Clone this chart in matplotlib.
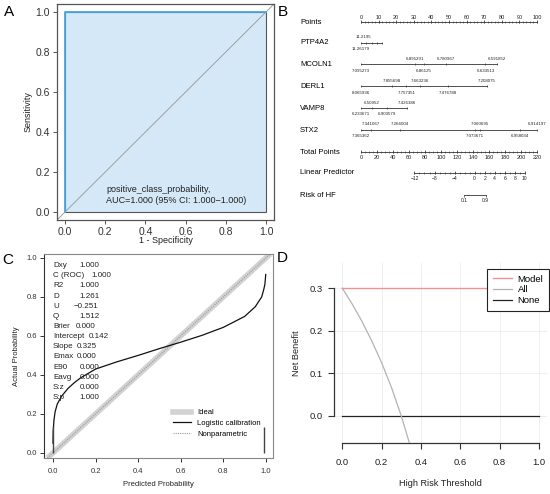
import numpy as np
import matplotlib
matplotlib.use("Agg")
import matplotlib.pyplot as plt
from matplotlib.lines import Line2D

plt.rcParams['font.family'] = ['Liberation Sans', 'DejaVu Sans']

W, H = 550, 494

# ---------------- data ----------------
# A: ROC
roc_fpr = [0.0, 0.0, 1.0, 1.0]
roc_tpr = [0.0, 1.0, 1.0, 0.0]
unit_ticks = [0.0, 0.2, 0.4, 0.6, 0.8, 1.0]
roc_text = "positive_class_probability,\nAUC=1.000 (95% CI: 1.000\u22121.000)"

# B: nomogram (positions in points / total points)
points_ticks = list(range(0, 101, 10))
total_ticks = list(range(0, 221, 20))
lp_ticks = [-12, -8, -4, 0, 2, 4, 6, 8, 10]
lp_pos = [66.8, 91.9, 117.0, 142.0, 154.7, 167.1, 179.7, 192.2, 204.7]
risk_labels = ["0.1", "0.9"]
risk_pos = [128.6, 156.0]

var_names = ["PTP4A2", "MCOLN1", "DERL1", "VAMP8", "STX2"]
ptp4a2_vals = ["11.26179", "11.2195"]
ptp4a2_pts = [0.0, 1.5]
ptp4a2_side = [-1, 1]
ptp4a2_ticks = [0.0, 3.0, 6.0, 9.0, 12.1]
mcoln1_vals = ["7.095273", "6.895291", "6.86125", "6.780967", "6.633513", "6.591852"]
mcoln1_pts = [0.0, 30.6, 35.8, 48.1, 70.7, 77.0]
mcoln1_side = [-1, 1, -1, 1, -1, 1]
derl1_vals = ["8.065936", "7.855698", "7.757351", "7.663236", "7.476788", "7.208075"]
derl1_pts = [0.0, 17.5, 25.8, 33.6, 49.2, 71.6]
derl1_side = [-1, 1, -1, 1, -1, 1]
vamp8_vals = ["6.233671", "6.50952", "6.903579", "7.426386"]
vamp8_pts = [0.0, 6.1, 14.8, 26.3]
vamp8_side = [-1, 1, -1, 1]
stx2_vals = ["7.365362", "7.341067", "7.266004", "7.073671", "7.060695", "6.958034", "6.914197"]
stx2_pts = [0.0, 5.4, 22.0, 64.6, 67.5, 90.3, 100.0]
stx2_side = [-1, 1, 1, -1, 1, -1, 1]

# C: calibration
cal_pred = [0.0001, 0.001, 0.005, 0.01, 0.02, 0.04, 0.07, 0.1, 0.13, 0.2, 0.3,
            0.4, 0.5, 0.6, 0.7, 0.8, 0.9, 0.95, 0.98, 0.99, 0.995, 0.999]
cal_act = [0.05, 0.11, 0.17, 0.21, 0.25, 0.29, 0.33, 0.36, 0.385, 0.43, 0.467,
           0.50, 0.535, 0.568, 0.603, 0.644, 0.70, 0.75, 0.80, 0.84, 0.865, 0.915]
spike_x = [0.001, 0.992]
spike_h = [0.14, 0.135]
stat_names = ["Dxy", "C (ROC)", "R2", "D", "U", "Q", "Brier", "Intercept",
              "Slope", "Emax", "E90", "Eavg", "S:z", "S:p"]
stat_vals = ["1.000", "1.000", "1.000", "1.261", "\u22120.251", "1.512", "0.000",
             "0.142", "0.325", "0.000", "0.000", "0.000", "0.000", "1.000"]

# D: decision curve
dca_thr = [0.0, 0.05, 0.1, 0.15, 0.2, 0.25, 0.3, 0.35]
all_nb = [0.30, 0.263, 0.222, 0.176, 0.125, 0.067, 0.0, -0.077]
model_thr = [0.0, 1.0]
model_nb = [0.3, 0.3]
none_thr = [0.0, 1.0]
none_nb = [0.0, 0.0]
dca_xticks = [0.0, 0.2, 0.4, 0.6, 0.8, 1.0]
dca_yticks = [0.0, 0.1, 0.2, 0.3]


def box(l, t, r, b):
    return [l / W, 1 - b / H, (r - l) / W, (b - t) / H]


fig = plt.figure(figsize=(W / 100, H / 100), dpi=100)

# ---------------- A ----------------
axA = fig.add_axes(box(57, 4, 274, 220))
axA.fill(roc_fpr, roc_tpr, facecolor='#d4e8f7', edgecolor='#555555', lw=0.8, zorder=1)
axA.plot(roc_fpr[:3], roc_tpr[:3], color='#45a8dc', lw=1.3, zorder=3)
axA.axline((0, 0), (1, 1), color='#a0a0a0', lw=0.7, zorder=2)
axA.set_xlim(-0.04, 1.04)
axA.set_ylim(-0.04, 1.04)
axA.set_xticks(unit_ticks)
axA.set_yticks(unit_ticks)
axA.set_xticklabels([f"{v:.1f}" for v in unit_ticks])
axA.set_yticklabels([f"{v:.1f}" for v in unit_ticks])
axA.tick_params(direction='out', length=3, width=0.7, color='#555555',
                labelsize=7.5, labelcolor='#333333', pad=2)
for s in axA.spines.values():
    s.set_color('#555555')
    s.set_linewidth(0.9)
axA.set_xlabel("1 - Specificity", fontsize=6.5, labelpad=-1, color='#222222')
axA.set_ylabel("Sensitivity", fontsize=6.5, labelpad=2, color='#222222')
axA.text(0.204, 0.085, roc_text, fontsize=6.5, va='center', ha='left',
         linespacing=1.25, color='#222222')

# ---------------- B ----------------
axB = fig.add_axes(box(290, 0, 550, 250))
px0, px100 = 361, 537
axB.set_xlim((290 - px0) / (px100 - px0) * 100, (550 - px0) / (px100 - px0) * 100)
axB.set_ylim(250, 0)
axB.axis('off')
lc = '#333333'
lab_x = (300 - px0) / (px100 - px0) * 100
row_fs = 5.5
num_fs = 3.2

# Points axis
yP = 22
axB.plot([0, 100], [yP, yP], color=lc, lw=0.6)
axB.vlines(np.arange(0, 101, 2), yP - 1.0, yP + 1.0, color=lc, lw=0.4)
axB.vlines(points_ticks, yP - 1.8, yP + 1.0, color=lc, lw=0.5)
for v in points_ticks:
    axB.text(v, yP - 4.5, str(v), fontsize=4, ha='center', va='center', color='#222222')
axB.text(lab_x, yP, "Points", fontsize=row_fs, ha='left', va='center')

var_rows = [43, 64.5, 86.5, 108.3, 130]
var_data = [(ptp4a2_vals, ptp4a2_pts, ptp4a2_side, ptp4a2_ticks),
            (mcoln1_vals, mcoln1_pts, mcoln1_side, mcoln1_pts),
            (derl1_vals, derl1_pts, derl1_side, derl1_pts),
            (vamp8_vals, vamp8_pts, vamp8_side, vamp8_pts),
            (stx2_vals, stx2_pts, stx2_side, stx2_pts)]
for name, yv, (vals, pts, side, tks) in zip(var_names, var_rows, var_data):
    axB.plot([0, max(tks)], [yv, yv], color=lc, lw=0.6)
    axB.vlines(tks, yv - 1.0, yv + 1.0, color=lc, lw=0.5)
    for t, p, s in zip(vals, pts, side):
        axB.text(p, yv - 5.8 if s > 0 else yv + 6.0, t, fontsize=num_fs,
                 ha='center', va='center', color='#222222')
    axB.text(lab_x, yv, name, fontsize=row_fs, ha='left', va='center')

# Total points
yT = 152.3
axB.plot([0, 100], [yT, yT], color=lc, lw=0.6)
axB.vlines(np.arange(0, 221, 5) / 220 * 100, yT - 1.0, yT + 1.0, color=lc, lw=0.4)
axB.vlines(np.array(total_ticks) / 220 * 100, yT - 1.8, yT + 1.0, color=lc, lw=0.5)
for v in total_ticks:
    axB.text(v / 220 * 100, yT + 5.5, str(v), fontsize=4, ha='center', va='center',
             color='#222222')
axB.text(lab_x, yT, "Total Points", fontsize=row_fs, ha='left', va='center')

# Linear predictor
yL = 172.8
lp_minor = np.interp(np.arange(-12, 11), lp_ticks, lp_pos) / 220 * 100
lp_x = np.array(lp_pos) / 220 * 100
axB.plot([lp_x[0], lp_x[-1]], [yL, yL], color=lc, lw=0.6)
axB.vlines(lp_minor, yL - 1.0, yL + 1.0, color=lc, lw=0.4)
axB.vlines(lp_x, yL - 1.8, yL + 1.0, color=lc, lw=0.5)
for v, x in zip(lp_ticks, lp_x):
    axB.text(x, yL + 5.5, str(v).replace('-', '\u2212'), fontsize=3.6, ha='center',
             va='center', color='#222222')
axB.text(lab_x, yL, "Linear Predictor", fontsize=row_fs, ha='left', va='center')

# Risk of HF
yR = 195.3
rk_x = np.array(risk_pos) / 220 * 100
axB.plot([rk_x[0], rk_x[-1]], [yR, yR], color=lc, lw=0.6)
axB.vlines(rk_x, yR, yR + 1.6, color=lc, lw=0.5)
for t, x in zip(risk_labels, rk_x):
    axB.text(x, yR + 5.5, t, fontsize=3.6, ha='center', va='center', color='#222222')
axB.text(lab_x, yR, "Risk of HF", fontsize=row_fs, ha='left', va='center')

# ---------------- C ----------------
axC = fig.add_axes(box(44, 254, 273, 458))
axC.set_xlim(-0.042, 1.033)
axC.set_ylim(-0.026, 1.02)
axC.axline((0, 0), (1, 1), color='#d2d2d2', lw=4, zorder=1, solid_capstyle='butt')
axC.axline((0, 0), (1, 1), color='#9a9a9a', lw=0.8, ls=(0, (1, 1)), zorder=2)
axC.plot(cal_pred, cal_act, color='#111111', lw=0.9, zorder=3)
axC.vlines(spike_x, 0, spike_h, color='#444444', lw=1.0, zorder=3)
axC.set_xticks(unit_ticks)
axC.set_yticks(unit_ticks)
axC.set_xticklabels([f"{v:.1f}" for v in unit_ticks])
axC.set_yticklabels([f"{v:.1f}" for v in unit_ticks])
axC.tick_params(direction='out', length=3, width=0.7, color='#333333',
                labelsize=5.5, labelcolor='#333333', pad=2)
axC.tick_params(axis='x', pad=4)
for k, s in axC.spines.items():
    s.set_color('#888888' if k != 'left' else '#333333')
    s.set_linewidth(0.8)
axC.set_xlabel("Predicted Probability", fontsize=5.5, labelpad=4.5, color='#222222')
axC.set_ylabel("Actual Probability", fontsize=5.5, labelpad=5, color='#222222')
val_x = [0.125, 0.180, 0.125, 0.125, 0.097, 0.125, 0.105, 0.170,
         0.112, 0.112, 0.125, 0.125, 0.125, 0.125]
for i, (n, v) in enumerate(zip(stat_names, stat_vals)):
    yy = 0.96 - i * 0.052
    axC.text(0.0, yy, n, fontsize=5.8, ha='left', va='center', color='#222222', zorder=4)
    axC.text(val_x[i], yy, v, fontsize=5.8, ha='left', va='center', color='#222222', zorder=4)
hC = [Line2D([], [], color='#d2d2d2', lw=4),
      Line2D([], [], color='#111111', lw=0.9),
      Line2D([], [], color='#9a9a9a', lw=0.8, ls=(0, (1, 1)))]
axC.legend(hC, ["Ideal", "Logistic calibration", "Nonparametric"], loc='upper left',
           bbox_to_anchor=(0.55, 0.255), frameon=False, fontsize=5.5, handlelength=2.3,
           handletextpad=0.9, labelspacing=0.45, borderaxespad=0)

# ---------------- D ----------------
axD = fig.add_axes(box(334.4, 263, 546.9, 443))
axD.set_xlim(-0.04, 1.04)
axD.set_ylim(-0.0634, 0.359)
axD.set_xticks(dca_xticks)
axD.set_yticks(dca_yticks)
axD.grid(True, color='#ececec', lw=0.6)
axD.set_axisbelow(True)
axD.plot(none_thr, none_nb, color='#222222', lw=0.9, label='None', zorder=3)
axD.plot(dca_thr, all_nb, color='#b3b3b3', lw=0.9, label='All', zorder=3)
axD.plot(model_thr, model_nb, color='#f29191', lw=1.0, label='Model', zorder=4)
for k in ['top', 'right']:
    axD.spines[k].set_visible(False)
axD.spines['left'].set_bounds(0.0, 0.3)
axD.spines['bottom'].set_bounds(0.0, 1.0)
for k in ['left', 'bottom']:
    axD.spines[k].set_color('#333333')
    axD.spines[k].set_linewidth(0.9)
axD.set_xticklabels([f"{v:.1f}" for v in dca_xticks])
axD.set_yticklabels([f"{v:.1f}" for v in dca_yticks])
axD.tick_params(direction='out', length=4.5, width=0.8, color='#333333',
                labelsize=6.8, labelcolor='#222222', pad=4)
axD.tick_params(axis='x', pad=6)
axD.set_xlabel("High Risk Threshold", fontsize=6.6, labelpad=9, color='#222222')
axD.set_ylabel("Net Benefit", fontsize=6.6, labelpad=6, color='#222222')
hd, ld = axD.get_legend_handles_labels()
legD = axD.legend(hd[::-1], ld[::-1], loc='upper right', bbox_to_anchor=(1.01, 0.967),
                  fontsize=6.8, handlelength=2.0, handletextpad=0.6, labelspacing=0.2,
                  borderpad=0.6, borderaxespad=0, fancybox=False, edgecolor='#222222',
                  framealpha=1)
legD.get_frame().set_linewidth(0.8)

# panel letters
for letter, x, y in [("A", 8.7, 12), ("B", 282.5, 12), ("C", 7.5, 259.5), ("D", 282.5, 258.5)]:
    fig.text(x / W, 1 - y / H, letter, fontsize=11, ha='center', va='center')

fig.savefig("out.png", dpi=100)
